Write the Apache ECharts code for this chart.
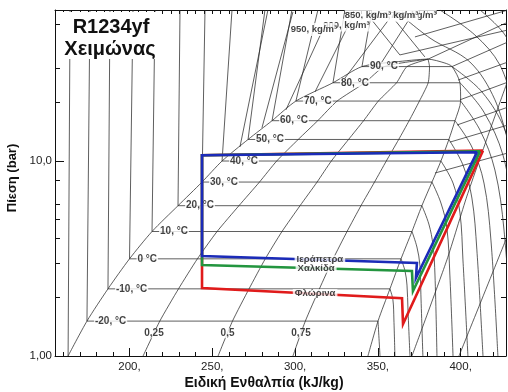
<!DOCTYPE html>
<html><head><meta charset="utf-8">
<script src="https://cdn.jsdelivr.net/npm/echarts@6/dist/echarts.min.js"></script>
<style>html,body{margin:0;padding:0;background:#fff}#c{width:508px;height:392px}</style>
</head><body><div id="c"></div>
<script>
// R1234yf log p-h diagram with the winter heat-pump cycles of three sites.
// Enthalpy in kJ/kg, pressure in bar.

// Saturation table
const satT  = [-30, -20, -10, 0, 10, 20, 30, 40, 50, 60, 70, 80, 90];
const satP  = [1.00, 1.51, 2.21, 3.15, 4.35, 5.90, 7.80, 10.0, 12.9, 16.1, 20.3, 25.2, 30.5];
const satHl = [162.9, 174.3, 187.0, 200.0, 213.6, 229.3, 243.8, 255.9, 271.6, 286.1, 300.5, 322.9, 340.4];
const satHv = [344.0, 350.1, 357.3, 364.0, 370.6, 376.6, 382.7, 388.1, 392.9, 396.6, 400.0, 399.6, 394.8];
const domeTopLiq = [360.3, 32.2];
const critPoint  = [380.3, 33.3];
const domeTopVap = [390.5, 31.8];
const isoLabels = ['-20, °C', '-10, °C', '0 °C', '10, °C', '20, °C', '30, °C', '40, °C', '50, °C', '60, °C', '70, °C', '80, °C', '90, °C'];

// Vapour quality lines at the saturation pressures above
const q25 = [208.2, 218.3, 229.6, 241.0, 252.9, 266.1, 278.5, 288.9, 301.9, 313.7, 325.4, 342.1, 354.0];
const q50 = [253.5, 262.2, 272.2, 282.0, 292.1, 303.0, 313.3, 321.9, 332.3, 341.4, 350.3, 361.3, 367.6];
const q75 = [298.7, 306.2, 314.7, 323.0, 331.4, 339.8, 348.0, 355.1, 362.6, 368.9, 375.1, 380.4, 381.2];
const qLabels = [[214.8, 1.31, '0,25'], [259.2, 1.31, '0,5'], [303.6, 1.31, '0,75']];

// Liquid isotherms: enthalpy at the top of the chart
const pTop = 59.5;
const liqTopH = [164.1, 176.1, 188.2, 202.1, 215.4, 230.5, 245.6, 261.9, 281.8, 298.1, 313.8, 330.1, 346.4];

// Liquid and supercritical isochores
const liqIsochores = [
  [[266.7, 11.8], [283.6, 59.5]],
  [[280.0, 14.8], [298.7, 58.1]],
  [[294.5, 18.3], [318.0, 49.8]],
  [[312.0, 22.6], [334.4, 54.1]],
  [[330.1, 26.6], [357.3, 54.1]],
  [[351.3, 31.1], [369.4, 54.1]],
  [[346.4, 52.8], [363.3, 35.0]],
  [[360.3, 52.8], [378.4, 34.2]]
];
// Isochore labels, listed from the back of the stack to the front
const isochoreLabels = [
  [371.5, 56.1, '750, kg/m³'], [360.5, 56.1, '800, kg/m³'], [344.0, 56.1, '850, kg/m³'],
  [331.0, 49.8, '900, kg/m³'], [311.4, 47.3, '950, kg/m³']
];

// Superheated isotherms, -20 ... 90 °C
const vapIsotherms = [
  [[350.1, 1.51], [351.3, 1.0]],
  [[357.3, 2.21], [359.1, 1.94], [359.7, 1.53], [360.3, 1.0]],
  [[364.0, 3.15], [366.4, 2.73], [367.6, 2.31], [368.2, 1.72], [369.4, 1.0]],
  [[370.6, 4.35], [373.6, 3.62], [375.4, 2.93], [376.0, 2.06], [377.2, 1.0]],
  [[376.6, 5.90], [380.8, 4.75], [383.3, 3.71], [384.5, 2.60], [385.7, 1.0]],
  [[382.7, 7.80], [388.1, 6.09], [391.7, 4.53], [393.5, 2.60], [395.4, 1.0]],
  [[388.1, 10.0], [395.4, 7.71], [399.6, 5.41], [401.4, 3.11], [404.4, 1.0]],
  [[392.9, 12.9], [401.4, 9.54], [406.8, 6.46], [409.8, 3.50], [413.5, 1.0]],
  [[396.6, 16.1], [406.8, 11.8], [414.1, 7.71], [418.3, 3.93], [422.5, 1.0]],
  [[400.0, 20.3], [411.7, 14.4], [420.7, 8.99], [426.2, 4.43], [431.6, 1.0]],
  [[399.6, 25.2], [414.1, 17.8], [425.6, 10.7], [432.8, 4.98]],
  [[394.8, 30.5], [412.9, 22.6], [426.8, 14.4], [435.8, 7.10]]
];
// Supercritical isotherms
const superIsotherms = [
  [[360.3, 59.5], [381.5, 42.7], [405.6, 32.2], [420.7, 20.6], [429.8, 11.4]],
  [[387.5, 59.5], [408.6, 44.3], [423.7, 31.1], [432.8, 18.3]],
  [[411.7, 59.5], [426.8, 44.3], [435.8, 29.3]]
];
// Vapour isochores
const vapIsochores = [
  [[363.3, 35.0], [428.6, 47.0]],
  [[372.4, 43.3], [428.6, 59.5]],
  [[380.3, 33.3], [428.6, 51.6]],
  [[394.8, 30.5], [428.6, 40.8]],
  [[398.4, 26.0], [428.6, 32.2]],
  [[399.6, 20.6], [428.6, 25.4]],
  [[397.8, 15.3], [428.6, 18.9]],
  [[393.5, 12.5], [428.6, 15.3]],
  [[384.5, 8.68], [428.6, 11.0]]
];
// Isentropes
const isentropes = [
  [[370.6, 1.0], [391.7, 3.11], [403.8, 6.61], [417.7, 14.4], [428.6, 26.0]],
  [[399.0, 1.0], [428.6, 4.2]]
];

// Heat-pump cycles: compressor outlet, condenser outlet, evaporator inlet,
// evaporator outlet, compressor inlet
const cycleNames = ['Φλώρινα', 'Χαλκίδα', 'Ιεράπετρα'];
const cycleColors = ['#e01b1b', '#23953f', '#1b2bb8'];
const cycleH = [
  [413.5, 243.8, 243.8, 364.6, 365.2, 413.5],
  [411.7, 243.8, 243.8, 370.6, 371.2, 411.7],
  [409.9, 243.8, 243.8, 373.6, 373.0, 409.9]
];
const cycleP = [
  [11.3, 10.7, 2.23, 1.98, 1.46, 11.3],
  [11.2, 10.7, 2.93, 2.73, 2.15, 11.2],
  [11.1, 10.7, 3.26, 3.00, 2.51, 11.1]
];
const cycleLabelPos = [[312.1, 2.09], [312.7, 2.82], [315.0, 3.12]];

// Axis ticks
const xMajor = [200, 250, 300, 350, 400];
const xMinor = [160,170,180,190,210,220,230,240,260,270,280,290,310,320,330,340,360,370,380,390,410,420];
const xTop = [];
for (let v = 160; v <= 425; v += 5) xTop.push(v);
const yMajor = [1, 10];
const yMinor = [2, 3, 4, 5, 6, 8, 20, 30, 50];

const FONT = '"Liberation Sans", Arial, sans-serif';
const GRAY = {color: '#2a2a2a', width: 0.75};

function line(data, extra) {
  return Object.assign({
    type: 'line', data: data, symbol: 'none', silent: true, animation: false,
    lineStyle: Object.assign({}, GRAY), z: 2
  }, extra || {});
}
function pairs(hs, ps) { return hs.map((h, i) => [h, ps[i]]); }

const series = [];

// saturation dome
const liqSide = pairs(satHl, satP);
const vapSide = pairs(satHv, satP).reverse();
series.push(line(liqSide.concat([domeTopLiq, critPoint, domeTopVap]).concat(vapSide), {smooth: 0.25}));

// two-phase isotherms
for (let i = 1; i < satT.length; i++) {
  series.push(line([[satHl[i], satP[i]], [satHv[i], satP[i]]]));
}
// liquid isotherms
satHl.forEach((h, i) => series.push(line([[h, satP[i]], [liqTopH[i], pTop]])));
// quality lines
[q25, q50, q75].forEach(q => series.push(line(pairs(q, satP).concat([critPoint]), {smooth: 0.2})));
liqIsochores.forEach(d => series.push(line(d)));
vapIsotherms.forEach(d => series.push(line(d, {smooth: 0.35})));
superIsotherms.forEach(d => series.push(line(d, {smooth: 0.35})));
vapIsochores.forEach(d => series.push(line(d)));
isentropes.forEach(d => series.push(line(d, {smooth: 0.2})));

// cycles
cycleH.forEach((hs, k) => {
  series.push(line(pairs(hs, cycleP[k]), {
    lineStyle: {color: cycleColors[k], width: 2.6, join: 'miter'}, z: 5
  }));
});

function labelSeries(items, z, extraLabel) {
  return {
    type: 'scatter', symbolSize: 0, silent: true, animation: false, z: z,
    data: items.map(d => ({value: [d[0], d[1]], name: d[2]})),
    label: Object.assign({
      show: true, position: 'inside', formatter: p => p.name,
      fontFamily: FONT, fontSize: 10, fontWeight: 'bold', color: '#111',
      lineHeight: 10, backgroundColor: '#fff', padding: [0, 1]
    }, extraLabel || {})
  };
}
// isotherm labels beside the saturated-liquid line
series.push(labelSeries(isoLabels.map((t, i) => [satHl[i + 1], satP[i + 1], t]), 4,
  {position: 'right', distance: 7, lineHeight: 9}));
series.push(labelSeries(qLabels, 4));
// stacked isochore labels: each one partly covers the previous one
isochoreLabels.forEach((d, k) => series.push(labelSeries([d], 4 + k * 0.01, {fontSize: 9.5, padding: [1, 0], lineHeight: 11})));
// cycle names sit on their evaporator lines
cycleLabelPos.forEach((p, k) => series.push(labelSeries([[p[0], p[1], cycleNames[k]]], 10 + k * 0.01,
  {fontSize: 9.5, lineHeight: 9, padding: [0, 2]})));

const axisLineStyle = {lineStyle: {color: '#111', width: 1}};
const option = {
  backgroundColor: '#fff',
  animation: false,
  grid: {left: 55, right: 2, top: 10, bottom: 36},
  xAxis: [
    {type: 'value', position: 'bottom', min: 155, max: 427.4,
     axisLine: axisLineStyle, splitLine: {show: false},
     axisTick: {inside: true, length: 8, customValues: xMajor, lineStyle: {color: '#111'}},
     axisLabel: {customValues: xMajor, formatter: v => v + ',', fontFamily: FONT, fontSize: 11.5, color: '#222', margin: 5}},
    {type: 'value', position: 'bottom', min: 155, max: 427.4,
     axisLine: {show: false}, splitLine: {show: false},
     axisTick: {inside: true, length: 4, customValues: xMinor, lineStyle: {color: '#111'}},
     axisLabel: {show: false}},
    {type: 'value', position: 'top', min: 155, max: 427.4,
     axisLine: axisLineStyle, splitLine: {show: false},
     axisTick: {inside: true, length: 4, customValues: xTop, lineStyle: {color: '#111'}},
     axisLabel: {show: false}}
  ],
  yAxis: [
    {type: 'log', logBase: 10, position: 'left', min: 1, max: pTop,
     axisLine: axisLineStyle, splitLine: {show: false}, minorTick: {show: false},
     axisTick: {inside: true, length: 9, customValues: yMajor, lineStyle: {color: '#111'}},
     axisLabel: {customValues: yMajor, formatter: v => (v < 5 ? '1,00' : '10,0'), fontFamily: FONT, fontSize: 11.5, color: '#222', margin: 3}},
    {type: 'log', logBase: 10, position: 'left', min: 1, max: pTop,
     axisLine: {show: false}, splitLine: {show: false},
     axisTick: {inside: true, length: 5, customValues: yMinor, lineStyle: {color: '#111'}},
     axisLabel: {show: false}},
    {type: 'log', logBase: 10, position: 'right', min: 1, max: pTop,
     axisLine: axisLineStyle, splitLine: {show: false},
     axisTick: {inside: true, length: 5, customValues: yMajor.concat(yMinor), lineStyle: {color: '#111'}},
     axisLabel: {show: false}}
  ],
  graphic: [
    {type: 'rect', z: 100, shape: {x: 60, y: 12, width: 101, height: 47}, style: {fill: '#fff'}},
    {type: 'text', z: 101, x: 111, y: 27, style: {text: 'R1234yf', font: 'bold 20px ' + FONT, fill: '#111', align: 'center', verticalAlign: 'middle'}},
    {type: 'text', z: 101, x: 110, y: 49, style: {text: 'Χειμώνας', font: 'bold 20px ' + FONT, fill: '#111', align: 'center', verticalAlign: 'middle'}},
    {type: 'text', z: 101, x: 264, y: 383, style: {text: 'Ειδική Ενθαλπία (kJ/kg)', font: 'bold 14px ' + FONT, fill: '#111', align: 'center', verticalAlign: 'middle'}},
    {type: 'text', z: 101, x: 12, y: 178, rotation: Math.PI / 2, style: {text: 'Πίεση (bar)', font: 'bold 13px ' + FONT, fill: '#111', align: 'center', verticalAlign: 'middle'}}
  ],
  series: series
};

const chart = echarts.init(document.getElementById('c'), null, {renderer: 'canvas'});
chart.setOption(option);
</script>
</body></html>
